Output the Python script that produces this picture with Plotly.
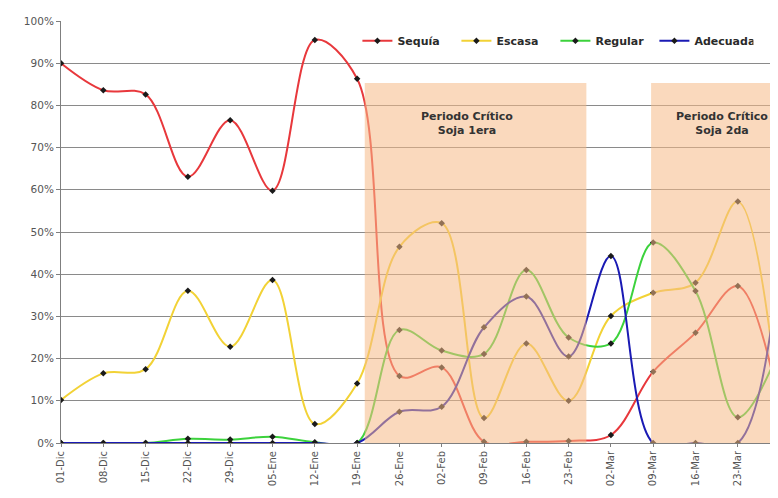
import plotly.graph_objects as go

fechas = ["01-Dic", "08-Dic", "15-Dic", "22-Dic", "29-Dic", "05-Ene", "12-Ene", "19-Ene",
          "26-Ene", "02-Feb", "09-Feb", "16-Feb", "23-Feb", "02-Mar", "09-Mar", "16-Mar",
          "23-Mar", "30-Mar"]
sequia = [90, 83.6, 82.6, 63.1, 76.5, 59.8, 95.5, 86.3, 15.9, 17.9, 0.3, 0.3, 0.5, 1.9, 16.9, 26.1, 37.2, 8]
escasa = [10.2, 16.5, 17.5, 36.1, 22.8, 38.6, 4.5, 14.1, 46.5, 52.1, 5.9, 23.6, 10.0, 30.1, 35.6, 38.0, 57.2, 6]
regular = [0, 0, 0, 1.0, 0.8, 1.5, 0.2, 0, 26.8, 21.9, 21.1, 41.0, 25.0, 23.6, 47.5, 36.0, 6.1, 22.5]
adecuada = [0, 0, 0, 0, 0, 0, 0, 0, 7.4, 8.6, 27.4, 34.7, 20.5, 44.3, 0, 0, 0, 45]

series = [("Sequía", sequia, "#E8383C"),
          ("Escasa", escasa, "#F2D236"),
          ("Regular", regular, "#3CD23C"),
          ("Adecuada", adecuada, "#1A1AB4")]

FONT = "DejaVu Sans"
fig = go.Figure()
for name, vals, col in series:
    fig.add_trace(go.Scatter(
        x=fechas, y=vals, name=name, mode="lines+markers",
        line=dict(color=col, width=2, shape="spline", smoothing=1.0),
        marker=dict(symbol="diamond", size=5, color="#1a1a1a"),
    ))

periodos = [(7.18, 12.42, "Periodo Crítico<br>Soja 1era", 9.6),
            (13.95, 18.5, "Periodo Crítico<br>Soja 2da", 15.63)]
for x0, x1, txt, xc in periodos:
    fig.add_shape(type="rect", xref="x", yref="y", x0=x0, x1=x1, y0=0, y1=85.3,
                  fillcolor="rgba(246,186,134,0.55)", line=dict(width=0), layer="above")
    fig.add_annotation(x=xc, y=75.6, xref="x", yref="y", text="<b>" + txt + "</b>",
                       showarrow=False, font=dict(family=FONT, size=11, color="#333333"))

fig.update_layout(
    width=778, height=498,
    margin=dict(l=53, r=8, t=13, b=63),
    paper_bgcolor="white", plot_bgcolor="white",
    font=dict(family=FONT, size=10, color="#555555"),
    showlegend=True,
    legend=dict(orientation="h", x=0.4134, y=0.953, xanchor="left", yanchor="middle",
                bgcolor="rgba(0,0,0,0)",
                font=dict(family=FONT, size=11, color="#2a2a2a", weight="bold"),
                itemwidth=30, entrywidth=54, entrywidthmode="pixels", tracegroupgap=0),
)
fig.update_xaxes(type="category", range=[0, 16.95], tickangle=-90, showgrid=False,
                 showline=True, linecolor="#7f7f7f", linewidth=1, ticks="outside",
                 ticklen=3, tickcolor="#7f7f7f", tickfont=dict(size=10, color="#555555"),
                 zeroline=False, automargin=False)
fig.update_yaxes(range=[0, 100], dtick=10, ticksuffix="%", showgrid=True,
                 gridcolor="#8a8a8a", gridwidth=1, showline=True, linecolor="#7f7f7f",
                 linewidth=1, ticks="outside", ticklen=4, tickcolor="#7f7f7f",
                 tickfont=dict(size=10.5, color="#555555"), zeroline=False, automargin=False)

fig.write_html("out.html")
